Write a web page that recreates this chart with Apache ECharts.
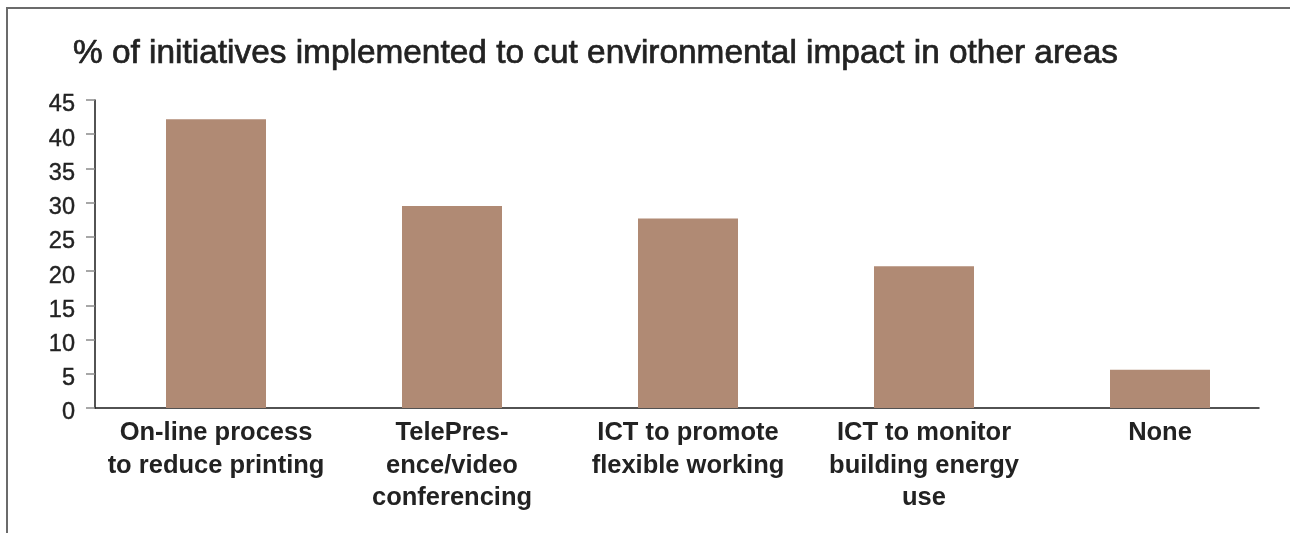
<!DOCTYPE html>
<html>
<head>
<meta charset="utf-8">
<script src="https://cdn.jsdelivr.net/npm/echarts@6/dist/echarts.min.js"></script>
<style>
  html, body { margin: 0; padding: 0; background: #fff; }
  #wrap { position: relative; width: 1290px; height: 533px; }
  #chart { position: absolute; left: 0; top: 0; width: 1290px; height: 533px; }
  #frame {
    position: absolute; left: 6px; top: 7px; right: 0; bottom: 0;
    border-top: 2px solid #6b6b6b; border-left: 2px solid #6b6b6b;
    pointer-events: none;
  }
</style>
</head>
<body>
<div id="wrap">
  <div id="chart"></div>
  <div id="frame"></div>
</div>
<script>
// Share of respondents (%) per initiative
const categories = [
  'On-line process\nto reduce printing',
  'TelePres-\nence/video\nconferencing',
  'ICT to promote\nflexible working',
  'ICT to monitor\nbuilding energy\nuse',
  'None'
];
const values = [42.2, 29.5, 27.7, 20.7, 5.6];
const yTicks = { min: 0, max: 45, interval: 5 };
const titleText = '% of initiatives implemented to cut environmental impact in other areas';

const FONT = '"Liberation Sans", Arial, Helvetica, sans-serif';
const TEXT = '#222';

const chart = echarts.init(document.getElementById('chart'), null, { renderer: 'canvas' });

chart.setOption({
  animation: false,
  backgroundColor: '#fff',
  title: {
    text: titleText,
    left: 68,
    top: 32,
    textStyle: {
      fontFamily: FONT, fontSize: 33.4, fontWeight: 'normal', color: TEXT,
      textBorderColor: TEXT, textBorderWidth: 0.7
    }
  },
  grid: [
    // frame of the axes
    { left: 95, right: 31, top: 100, bottom: 125 },
    // plotting area for the bars
    { left: 98, right: 12, top: 100, bottom: 125 }
  ],
  xAxis: [
    {
      type: 'category', gridIndex: 0, data: categories,
      axisLine: { show: true, lineStyle: { color: '#1a1a1a', width: 1.5 } },
      axisTick: { show: false },
      axisLabel: { show: false },
      splitLine: { show: false }
    },
    {
      type: 'category', gridIndex: 1, data: categories,
      axisLine: { show: false },
      axisTick: { show: false },
      axisLabel: {
        show: true, interval: 0, margin: 9,
        fontFamily: FONT, fontSize: 25.5, fontWeight: 'bold', color: TEXT,
        lineHeight: 32.5, align: 'center'
      },
      splitLine: { show: false }
    }
  ],
  yAxis: [
    {
      type: 'value', gridIndex: 0,
      min: yTicks.min, max: yTicks.max, interval: yTicks.interval,
      axisLine: { show: true, lineStyle: { color: '#1a1a1a', width: 1.5 } },
      axisTick: { show: true, length: 9, lineStyle: { color: '#8a8a8a', width: 1.5 } },
      axisLabel: {
        show: true, margin: 20, verticalAlign: 'top', lineHeight: 10,
        fontFamily: FONT, fontSize: 23.5, color: TEXT,
        textBorderColor: TEXT, textBorderWidth: 0.4
      },
      splitLine: { show: false }
    },
    {
      type: 'value', gridIndex: 1,
      min: yTicks.min, max: yTicks.max, interval: yTicks.interval,
      show: false,
      splitLine: { show: false }
    }
  ],
  series: [
    {
      type: 'bar',
      xAxisIndex: 1, yAxisIndex: 1,
      data: values,
      barWidth: 100,
      itemStyle: { color: '#b08a74' },
      emphasis: { disabled: true }
    }
  ]
});
</script>
</body>
</html>
